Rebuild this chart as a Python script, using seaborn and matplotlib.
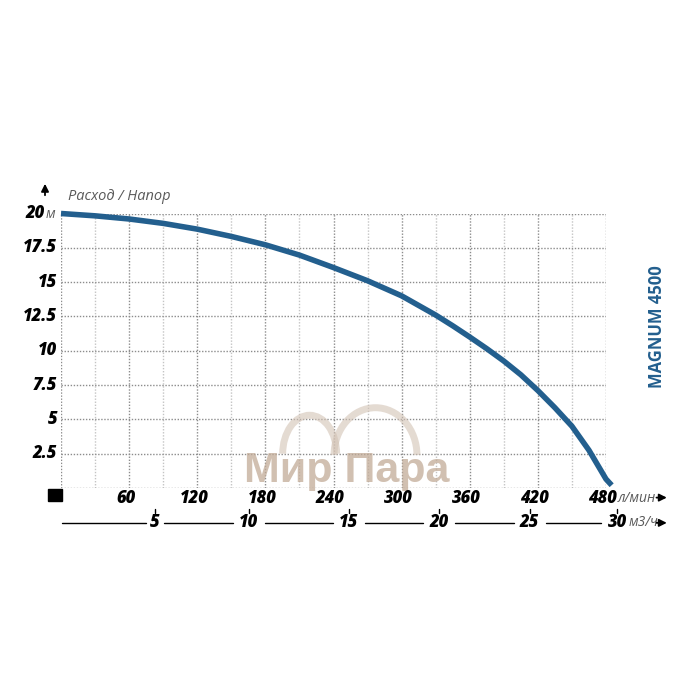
import numpy as np
import pandas as pd
import matplotlib
matplotlib.use("Agg")
import matplotlib.pyplot as plt
from matplotlib.patches import Arc
import seaborn as sns

# pump curve: flow (l/min) vs head (m)
flow_lpm = [0, 30, 60, 90, 120, 150, 180, 210, 240, 270, 300, 330, 345, 360, 375, 390, 405, 420,
            435, 450, 465, 480, 485]
head_m = [20.0, 19.83, 19.6, 19.28, 18.86, 18.33, 17.72, 16.97, 16.06, 15.1, 14.0, 12.6, 11.82, 11.0,
          10.15, 9.25, 8.25, 7.1, 5.85, 4.5, 2.75, 0.65, 0.2]

lpm_ticks = [60, 120, 180, 240, 300, 360, 420, 480]
m3h_labels = ["5", "10", "15", "20", "25", "30"]
# where the m3/h marks sit on the l/min scale, as drawn in the picture
m3h_pos_lpm = [82.7, 165.4, 253.4, 332.6, 412.7, 490.0]
head_ticks = [2.5, 5, 7.5, 10, 12.5, 15, 17.5, 20]
head_labels = ["2.5", "5", "7.5", "10", "12.5", "15", "17.5", "20"]

df = pd.DataFrame({"flow": flow_lpm, "head": head_m})

sns.set_theme(style="white")
plt.rcParams["font.family"] = ["Open Sans", "DejaVu Sans"]

BLUE = "#235f8e"
GRID_MAJ = "#8c8c8c"
GRID_MIN = "#c4c4c4"
UNIT = "#5a5a5a"

fig = plt.figure(figsize=(7, 7), dpi=100)
ax = fig.add_axes([61 / 700, 1 - 488 / 700, 545 / 700, 274.5 / 700])
ax.set_xlim(0, 480)
ax.set_ylim(0, 20)
ax.patch.set_alpha(0)

# grid
for x in np.arange(0, 481, 30):
    c = GRID_MAJ if x % 60 == 0 else GRID_MIN
    ax.axvline(x, color=c, lw=1.0, ls=(0, (1, 1.2)), zorder=1)
for y in np.arange(0, 20.1, 2.5):
    ax.axhline(y, color=GRID_MAJ, lw=1.0, ls=(0, (1, 1.2)), zorder=1)

# watermark
ax.text(252, 0.45, "Мир Пара", ha="center", va="baseline",
        fontsize=31, fontweight="bold", family=["Liberation Sans", "DejaVu Sans"],
        color="#c2ab97", alpha=0.75, zorder=2)
for cx, cy, w, h in [(219, 2.5, 47.5, 5.6), (277, 2.4, 73, 6.9)]:
    ax.add_patch(Arc((cx, cy), w, h, theta1=0, theta2=180,
                     lw=5, color="#d3c3b5", alpha=0.6, zorder=2))

sns.lineplot(data=df, x="flow", y="head", ax=ax, color=BLUE, lw=4.0, zorder=5)
ax.lines[-1].set_clip_on(False)
ax.lines[-1].set_solid_capstyle("butt")
ax.lines[-1].set_solid_joinstyle("round")

for s in ax.spines.values():
    s.set_visible(False)
ax.set_xlabel("")
ax.set_ylabel("")
ax.set_xticks([])
ax.set_yticks([])

tick_font = dict(fontsize=12, fontweight=800, fontstyle="italic", color="black")
ytr = ax.get_yaxis_transform()
xtr = ax.get_xaxis_transform()

# y tick labels
for v, lab in zip(head_ticks, head_labels):
    if v == 20:
        ax.text(-0.029, v, "20", transform=ytr, ha="right", va="center", **tick_font)
        ax.text(-0.028, v - 0.1, "м", transform=ytr, ha="left", va="center",
                fontsize=10, fontstyle="italic", color=UNIT)
    else:
        ax.text(-0.007, v, lab, transform=ytr, ha="right", va="center", **tick_font)

# l/min labels
for v in lpm_ticks:
    ax.text(v - 3, -0.037, str(v), transform=xtr, ha="center", va="center", **tick_font)
ax.text(490, -0.037, "л/мин", transform=xtr, ha="left", va="center",
        fontsize=10, fontstyle="italic", color=UNIT)
ax.annotate("", xy=(536, -0.035), xytext=(522, -0.035), xycoords=xtr,
            arrowprops=dict(arrowstyle="-|>", color="black", lw=1.3, mutation_scale=11))

# m3/h scale
yline = -0.127
gap = {1: 9, 2: 16}
left = 1.0
for lab, xp in zip(m3h_labels, m3h_pos_lpm):
    half = gap[len(lab)] * 60 / 68.2
    ax.plot([left, xp - half], [yline, yline], transform=xtr, color="black", lw=1.0, clip_on=False)
    left = xp + half
    ax.plot([xp, xp], [-0.076, -0.09], transform=xtr, color="black", lw=1.0, clip_on=False)
    ax.text(xp, yline, lab, transform=xtr, ha="center", va="center", **tick_font)
ax.text(500, yline, "м3/ч", transform=xtr, ha="left", va="center",
        fontsize=10, fontstyle="italic", color=UNIT)
ax.annotate("", xy=(536, yline), xytext=(522, yline), xycoords=xtr,
            arrowprops=dict(arrowstyle="-|>", color="black", lw=1.3, mutation_scale=11))

# origin square and up arrow
fig.patches.append(plt.Rectangle((48 / 700, 1 - 501 / 700), 14 / 700, 12 / 700,
                                 transform=fig.transFigure, color="black"))
ax.annotate("", xy=(45 / 700, 1 - 181 / 700), xytext=(45 / 700, 1 - 198 / 700),
            xycoords="figure fraction",
            arrowprops=dict(arrowstyle="-|>", color="black", lw=1.3, mutation_scale=11))

fig.text(68 / 700, 1 - 197 / 700, "Расход / Напор", ha="left", va="center",
         fontsize=10.5, fontstyle="italic", color=UNIT)
fig.text(657 / 700, 1 - 327 / 700, "MAGNUM 4500", rotation=90, ha="center", va="center",
         fontsize=12, fontweight="bold", color=BLUE)

fig.savefig("out.png", dpi=100, facecolor="white")
